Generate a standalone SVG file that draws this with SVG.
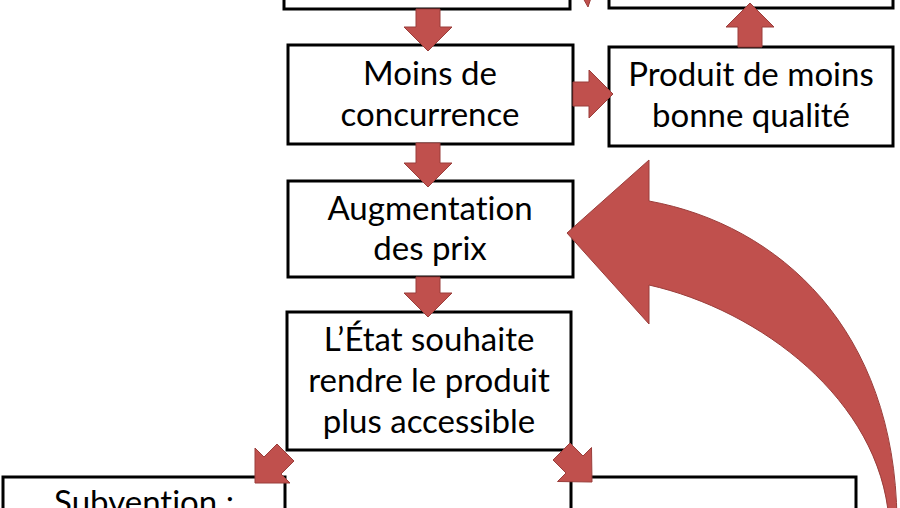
<svg xmlns="http://www.w3.org/2000/svg" width="900" height="508" viewBox="0 0 900 508">
<style>
.box{fill:#fff;stroke:#000;stroke-width:3}
.lbl{font-family:Lato,"Open Sans","Liberation Sans",sans-serif;font-size:33px;fill:#000;text-anchor:middle;font-variant-ligatures:none;font-feature-settings:"liga" 0,"clig" 0}
.arr{fill:#C0504D;stroke:#9A3D3A;stroke-width:1;stroke-linejoin:miter}
</style>
<rect width="900" height="508" fill="#fff"/>
<g id="node-top-left"><rect class="box" x="284" y="-60" width="286" height="69"/></g>
<g id="node-top-right"><rect class="box" x="609" y="-60" width="284" height="68"/></g>
<g id="node-moins"><rect class="box" x="288" y="45" width="285" height="99"/>
<text class="lbl" x="430" y="85">Moins de</text><text class="lbl" x="430" y="126">concurrence</text></g>
<g id="node-produit"><rect class="box" x="609" y="47" width="284" height="99"/>
<text class="lbl" x="751" y="86">Produit de moins</text><text class="lbl" x="751" y="127">bonne qualité</text></g>
<g id="node-augmentation"><rect class="box" x="288" y="181" width="285" height="96"/>
<text class="lbl" x="430" y="220">Augmentation</text><text class="lbl" x="430" y="260">des prix</text></g>
<g id="node-etat"><rect class="box" x="287" y="312" width="284" height="138"/>
<text class="lbl" x="429" y="351">L’État souhaite</text><text class="lbl" x="429" y="392">rendre le produit</text><text class="lbl" x="429" y="433">plus accessible</text></g>
<g id="node-subvention"><rect class="box" x="3" y="477" width="282" height="80"/>
<text class="lbl" x="144" y="514">Subvention :</text></g>
<g id="node-bottom-right"><rect class="box" x="571" y="477" width="285" height="80"/></g>
<g id="connectors">
<polygon class="arr" points="583,-2 591,-2 588,7"/>
<polygon class="arr" points="416,9 440,9 440,27 452,27 428,51 404,27 416,27"/>
<polygon class="arr" points="416,143 440,143 440,163 452,163 428,187 404,163 416,163"/>
<polygon class="arr" points="416,277 440,277 440,293 452,293 428,317 404,293 416,293"/>
<polygon class="arr" points="573,82 589,82 589,70 613,94 589,118 589,106 573,106"/>
<polygon class="arr" points="738,47 762,47 762,27 774,27 750,3 726,27 738,27"/>
<polygon class="arr" points="255,483 255,448 264,457 277,444 294,461 281,474 290,483"/>
<polygon class="arr" points="592,482 591.5,447.5 583,456 570,443 553,460 566,473 557.5,481.5"/>
<path class="arr" d="M567,233 L649,160 L649,201 C780,225 895,330 897,520 L889,520 C880,400 760,310 649,285 L649,324 Z"/>
</g>
</svg>
